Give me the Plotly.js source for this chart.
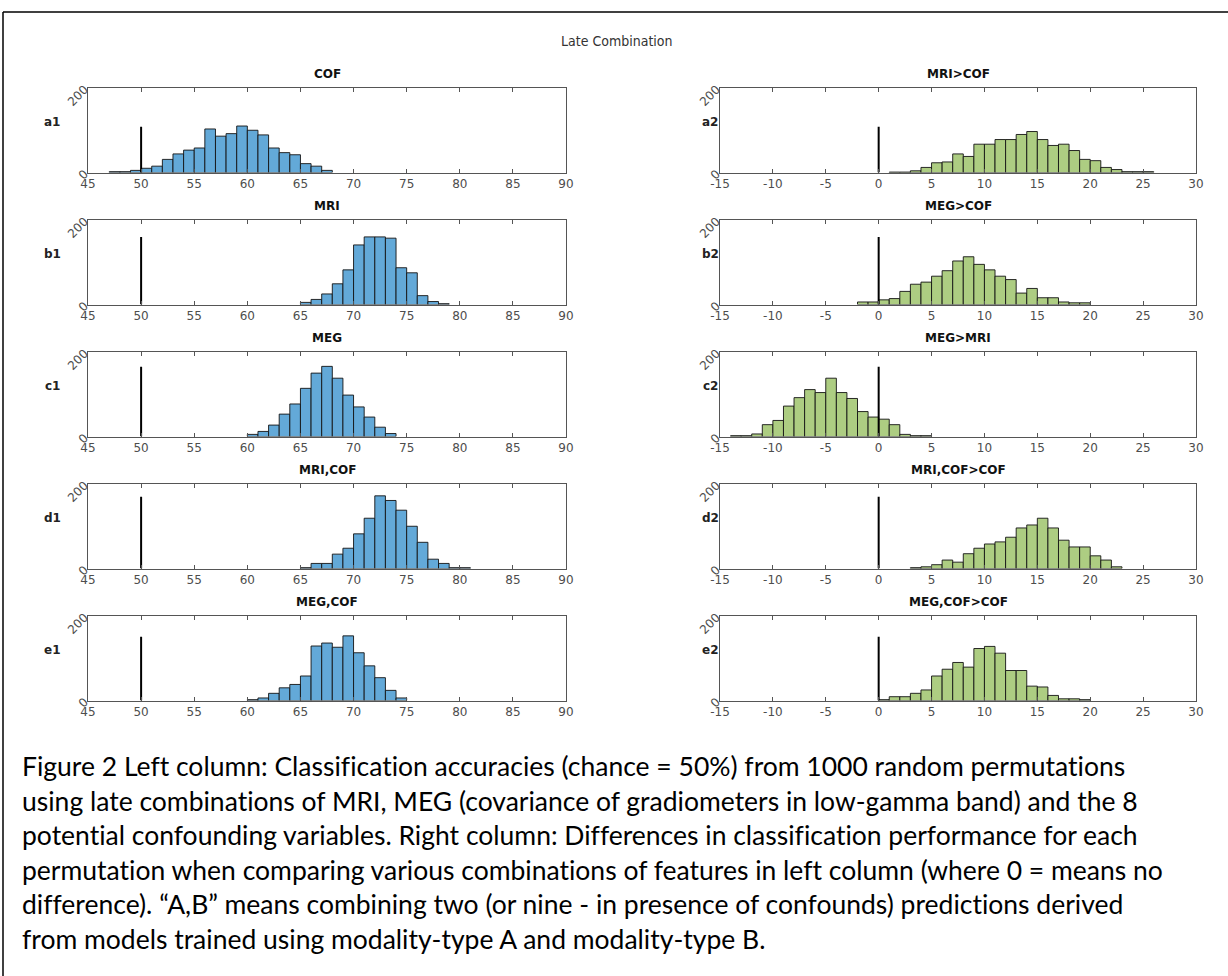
<!DOCTYPE html>
<html>
<head>
<meta charset="utf-8">
<script src="https://cdn.plot.ly/plotly-3.0.1.min.js"></script>
<style>
html,body{margin:0;padding:0;background:#fff;}
#chart{width:1228px;height:976px;}
#chart text{font-variant-ligatures:none;font-feature-settings:"liga" 0;}
</style>
</head>
<body>
<div id="chart"></div>
<script>
// ---------- DATA ----------
const figureTitle = "Late Combination";
const panelTitles = ["COF", "MRI", "MEG", "MRI,COF", "MEG,COF",
                     "MRI>COF", "MEG>COF", "MEG>MRI", "MRI,COF>COF", "MEG,COF>COF"];
const rowLabels = ["a1", "b1", "c1", "d1", "e1", "a2", "b2", "c2", "d2", "e2"];

// left column: accuracies (%), bins of width 1, first bin start
const cofStart = 47;
const cofCounts = [2, 2, 5, 10, 15, 31, 44, 53, 58, 103, 86, 92, 110, 100, 89, 58, 47, 42, 21, 15, 5];
const mriStart = 65;
const mriCounts = [5, 12, 25, 49, 82, 141, 160, 160, 157, 87, 75, 21, 7, 2];
const megStart = 60;
const megCounts = [5, 12, 27, 53, 77, 114, 150, 166, 138, 98, 70, 46, 22, 7];
const mriCofStart = 65;
const mriCofCounts = [2, 12, 12, 34, 48, 82, 119, 172, 161, 138, 100, 62, 22, 12, 2, 2];
const megCofStart = 60;
const megCofCounts = [2, 6, 17, 30, 38, 58, 129, 136, 126, 153, 113, 82, 54, 24, 6];

// right column: differences, bins of width 1, first bin start
const mriGtCofStart = 1;
const mriGtCofCounts = [1, 1, 4, 12, 23, 25, 44, 38, 67, 67, 78, 78, 90, 97, 78, 64, 67, 52, 31, 28, 12, 7, 2, 2, 2];
const megGtCofStart = -2;
const megGtCofCounts = [6, 6, 11, 14, 31, 48, 53, 67, 80, 103, 113, 95, 82, 67, 59, 27, 38, 16, 16, 6, 4, 4];
const megGtMriStart = -14;
const megGtMriCounts = [2, 2, 6, 28, 38, 72, 92, 111, 104, 138, 104, 90, 59, 46, 41, 28, 5, 2, 2];
const mriCofGtCofStart = 3;
const mriCofGtCofCounts = [2, 4, 9, 20, 15, 35, 48, 58, 63, 74, 96, 103, 119, 96, 67, 51, 51, 30, 20, 4];
const megCofGtCofStart = 0;
const megCofGtCofCounts = [2, 9, 9, 17, 25, 58, 74, 90, 79, 123, 128, 112, 71, 71, 34, 32, 12, 4, 4, 2];

// chance / no-difference reference lines
const leftChance = 50;
const rightChance = 0;
const chanceLineHeights = [108, 160, 165, 170, 151];

// axes
const leftRange = [45, 90];
const rightRange = [-15, 30];
const leftTicks = [45, 50, 55, 60, 65, 70, 75, 80, 85, 90];
const rightTicks = [-15, -10, -5, 0, 5, 10, 15, 20, 25, 30];
const yRange = [0, 200];
const yTicks = [0, 200];

const captionLines = [
  "Figure 2 Left column: Classification accuracies (chance = 50%) from 1000 random permutations",
  "using late combinations of MRI, MEG (covariance of gradiometers in low-gamma band) and the 8",
  "potential confounding variables. Right column: Differences in classification performance for each",
  "permutation when comparing various combinations of features in left column (where 0 = means no",
  "difference). \u201cA,B\u201d means combining two (or nine - in presence of confounds) predictions derived",
  "from models trained using modality-type A and modality-type B."
];

// ---------- LAYOUT ----------
const W = 1228, H = 976;
const starts = [cofStart, mriStart, megStart, mriCofStart, megCofStart,
                mriGtCofStart, megGtCofStart, megGtMriStart, mriCofGtCofStart, megCofGtCofStart];
const counts = [cofCounts, mriCounts, megCounts, mriCofCounts, megCofCounts,
                mriGtCofCounts, megGtCofCounts, megGtMriCounts, mriCofGtCofCounts, megCofGtCofCounts];

const colX = [[88, 566], [720, 1196]];
const rowTop = [88, 220, 352, 484, 616];
const rowH = 84.5;
const blue = "#63a9d8";
const green = "#adcd82";
const tickFont = {family: "DejaVu Sans", size: 12, color: "#4d4d4d"};

const traces = [];
const layout = {
  width: W, height: H,
  margin: {l: 0, r: 0, t: 0, b: 0},
  paper_bgcolor: "#fff", plot_bgcolor: "#fff",
  showlegend: false,
  font: {family: "DejaVu Sans", color: "#222"},
  annotations: [], shapes: []
};

for (let i = 0; i < 10; i++) {
  const col = i < 5 ? 0 : 1;
  const row = i % 5;
  const n = i + 1;
  const xa = "x" + (n === 1 ? "" : n), ya = "y" + (n === 1 ? "" : n);
  const xk = "xaxis" + (n === 1 ? "" : n), yk = "yaxis" + (n === 1 ? "" : n);
  const top = rowTop[row], bot = top + rowH;
  const xd = [colX[col][0] / W, colX[col][1] / W];
  const yd = [1 - bot / H, 1 - top / H];

  const xs = counts[i].map((c, k) => starts[i] + k + 0.5);
  traces.push({
    type: "bar", x: xs, y: counts[i], width: 1, xaxis: xa, yaxis: ya,
    marker: {color: col === 0 ? blue : green, line: {color: "rgba(20,20,20,0.9)", width: 1}},
    hoverinfo: "x+y"
  });
  const cx = col === 0 ? leftChance : rightChance;
  traces.push({
    type: "scatter", mode: "lines", x: [cx, cx], y: [0, chanceLineHeights[row]],
    xaxis: xa, yaxis: ya, line: {color: "#000", width: 2}, hoverinfo: "skip"
  });

  layout[xk] = {
    domain: xd, anchor: ya, range: col === 0 ? leftRange : rightRange,
    tickmode: "array", tickvals: col === 0 ? leftTicks : rightTicks,
    ticktext: (col === 0 ? leftTicks : rightTicks).map(String),
    ticks: "inside", ticklen: 4, tickcolor: "#555", tickwidth: 1,
    showline: true, linecolor: "#555", linewidth: 1, mirror: "ticks",
    showgrid: false, zeroline: false, tickfont: tickFont, fixedrange: true
  };
  layout[yk] = {
    domain: yd, anchor: xa, range: yRange,
    tickmode: "array", tickvals: yTicks, ticktext: yTicks.map(String),
    tickangle: -45, ticks: "inside", ticklen: 4, tickcolor: "#555",
    showline: true, linecolor: "#555", linewidth: 1, mirror: "ticks",
    showgrid: false, zeroline: false, tickfont: tickFont, fixedrange: true
  };

  layout.annotations.push({
    xref: "paper", yref: "paper", x: (xd[0] + xd[1]) / 2, y: 1 - (top - 5) / H,
    xanchor: "center", yanchor: "bottom", showarrow: false,
    text: "<b>" + panelTitles[i] + "</b>",
    font: {family: "DejaVu Sans", size: 12, color: "#111"}
  });
  layout.annotations.push({
    xref: "paper", yref: "paper", x: (col === 0 ? 52 : 710) / W, y: 1 - (top + rowH / 2 - 8) / H,
    xanchor: "center", yanchor: "middle", showarrow: false,
    text: "<b>" + rowLabels[i] + "</b>",
    font: {family: "DejaVu Sans", size: 12, color: "#222"}
  });
}

layout.annotations.push({
  xref: "paper", yref: "paper", x: 617 / W, y: 1 - 41 / H,
  xanchor: "center", yanchor: "middle", showarrow: false,
  text: figureTitle,
  font: {family: "DejaVu Sans Condensed, DejaVu Sans", size: 14, color: "#333"}
});

captionLines.forEach((t, k) => {
  layout.annotations.push({
    xref: "paper", yref: "paper", x: 20 / W, y: 1 - (766 + k * 34.5) / H,
    xanchor: "left", yanchor: "middle", showarrow: false, align: "left",
    text: t, font: {family: "Lato", size: 26.5, color: "#000"}
  });
});

// outer frame (top and left edges)
layout.shapes.push({type: "line", xref: "paper", yref: "paper",
  x0: 3 / W, x1: 1.01, y0: 1 - 12 / H, y1: 1 - 12 / H, line: {color: "#000", width: 1.5}});
layout.shapes.push({type: "line", xref: "paper", yref: "paper",
  x0: 3 / W, x1: 3 / W, y0: 1 - 12 / H, y1: -0.01, line: {color: "#000", width: 1.5}});

Plotly.newPlot("chart", traces, layout, {displayModeBar: false, staticPlot: true});
</script>
</body>
</html>
